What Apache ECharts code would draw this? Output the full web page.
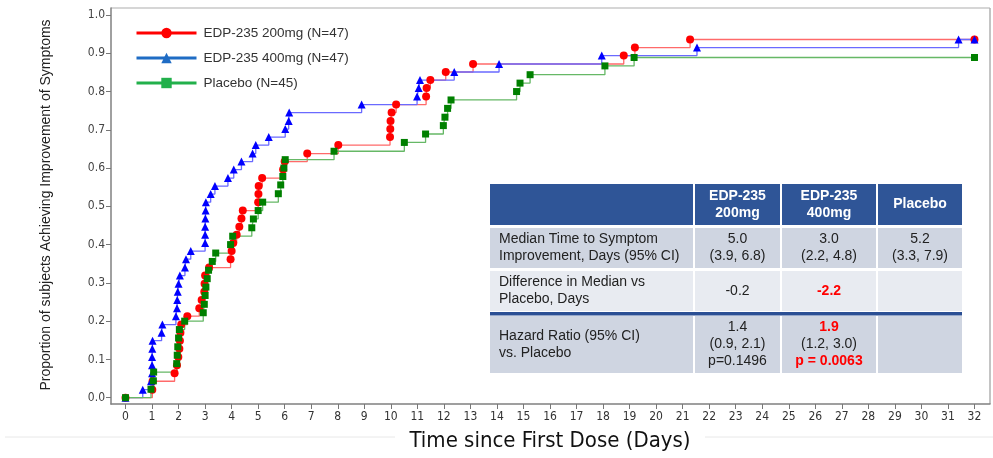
<!DOCTYPE html>
<html>
<head>
<meta charset="utf-8">
<script src="https://cdn.jsdelivr.net/npm/echarts@6/dist/echarts.min.js"></script>
<style>
  html, body { margin: 0; padding: 0; background: #fff; }
  #chart { width: 993px; height: 458px; }
</style>
</head>
<body>
<div id="chart"></div>
<script>
// event times (days) and cumulative proportions
var red_t = [1.01, 1.02, 1.85, 1.94, 1.99, 2.03, 2.05, 2.07, 2.1, 2.33, 2.78, 2.87, 2.97, 2.98, 3.0, 3.15,
    3.96, 4.0, 4.06, 4.19, 4.29, 4.37, 4.42, 5.0, 5.01, 5.02, 5.15, 5.94, 6.0, 6.85, 8.02, 9.97,
    9.98, 9.99, 10.03, 10.2, 11.33, 11.35, 11.49, 12.07, 13.1, 18.78, 19.2, 21.28, 32];
var red_p = [0.021, 0.043, 0.064, 0.085, 0.106, 0.128, 0.149, 0.170, 0.191, 0.213, 0.234, 0.255, 0.277, 0.298, 0.319, 0.340,
    0.362, 0.383, 0.404, 0.426, 0.447, 0.468, 0.489, 0.511, 0.532, 0.553, 0.574, 0.596, 0.617, 0.638, 0.660, 0.681,
    0.702, 0.723, 0.745, 0.766, 0.787, 0.809, 0.830, 0.851, 0.872, 0.894, 0.915, 0.936, 0.936];

var blue_t = [0.65, 0.96, 1.0, 1.0, 1.0, 1.01, 1.02, 1.36, 1.39, 1.9, 1.94, 1.95, 1.97, 2.0, 2.05, 2.24,
    2.28, 2.46, 3.0, 3.0, 3.0, 3.01, 3.02, 3.03, 3.21, 3.37, 3.86, 4.08, 4.37, 4.79, 4.91, 5.4,
    6.02, 6.15, 6.17, 8.9, 10.99, 11.05, 11.1, 12.39, 14.08, 17.95, 21.54, 31.4, 32];
var blue_p = [0.021, 0.043, 0.064, 0.085, 0.106, 0.128, 0.149, 0.170, 0.191, 0.213, 0.234, 0.255, 0.277, 0.298, 0.319, 0.340,
    0.362, 0.383, 0.404, 0.426, 0.447, 0.468, 0.489, 0.511, 0.532, 0.553, 0.574, 0.596, 0.617, 0.638, 0.660, 0.681,
    0.702, 0.723, 0.745, 0.766, 0.787, 0.809, 0.830, 0.851, 0.872, 0.894, 0.915, 0.936, 0.936];

var green_t = [0.96, 1.05, 1.06, 1.93, 1.95, 1.97, 2.0, 2.03, 2.23, 2.93, 2.97, 3.0, 3.03, 3.08, 3.13, 3.27,
    3.4, 3.96, 4.04, 4.76, 4.82, 5.0, 5.17, 5.76, 5.85, 5.93, 5.97, 6.02, 7.86, 10.51, 11.31, 11.98,
    12.04, 12.14, 12.27, 14.74, 14.87, 15.25, 18.07, 19.17, 32];
var green_p = [0.022, 0.044, 0.067, 0.089, 0.111, 0.133, 0.156, 0.178, 0.200, 0.222, 0.244, 0.267, 0.289, 0.311, 0.333, 0.356,
    0.378, 0.400, 0.422, 0.444, 0.467, 0.489, 0.511, 0.533, 0.556, 0.578, 0.600, 0.622, 0.644, 0.667, 0.689, 0.711,
    0.733, 0.756, 0.778, 0.800, 0.822, 0.844, 0.867, 0.889, 0.889];

var names = ['EDP-235 200mg (N=47)', 'EDP-235 400mg (N=47)', 'Placebo (N=45)'];

// tick positions
var xTicks = [0, 1, 2, 3, 4, 5, 6, 7, 8, 9, 10, 11, 12, 13, 14, 15, 16, 17, 18, 19, 20,
    21, 22, 23, 24, 25, 26, 27, 28, 29, 30, 31, 32];
var yTicks = [0, 0.1, 0.2, 0.3, 0.4, 0.5, 0.6, 0.7, 0.8, 0.9, 1.0];

// summary table
var tableHead = ['', 'EDP-235\n200mg', 'EDP-235\n400mg', 'Placebo'];
var tableRows = [
    ['Median Time to Symptom\nImprovement, Days (95% CI)', '5.0\n(3.9, 6.8)', '3.0\n(2.2, 4.8)', '5.2\n(3.3, 7.9)'],
    ['Difference in Median vs\nPlacebo, Days', '-0.2', '{r|-2.2}', ''],
    ['Hazard Ratio (95% CI)\nvs. Placebo', '1.4\n(0.9, 2.1)\np=0.1496', '{r|1.9}\n(1.2, 3.0)\n{r|p = 0.0063}', '']
];

function pts(t, p) {
    var out = [[0, 0]];
    for (var i = 0; i < t.length; i++) out.push([t[i], p[i]]);
    return out;
}

var narrow = "'Liberation Sans Narrow', 'DejaVu Sans Condensed', sans-serif";
var sans = "'Liberation Sans', Arial, sans-serif";

// table graphics
var colX = [490, 695, 782, 878, 964];
var rowY = [[184, 225], [228, 268], [271, 311], [316, 373]];
var rowBg = ['#2f5597', '#cfd5e1', '#e8ebf1', '#cfd5e1'];
var tbl = [];
var allRows = [tableHead].concat(tableRows);
allRows.forEach(function (row, r) {
    row.forEach(function (txt, c) {
        var x0 = colX[c], x1 = colX[c + 1] - 2;
        var y0 = rowY[r][0], y1 = rowY[r][1];
        tbl.push({ type: 'rect', shape: { x: x0, y: y0, width: x1 - x0, height: y1 - y0 },
            style: { fill: rowBg[r] }, silent: true });
        if (!txt) return;
        var isHead = r === 0;
        tbl.push({ type: 'text', silent: true,
            x: c === 0 ? x0 + 9 : (x0 + x1) / 2, y: (y0 + y1) / 2,
            style: {
                text: txt,
                align: c === 0 ? 'left' : 'center', verticalAlign: 'middle',
                fill: isHead ? '#fff' : '#222',
                font: (isHead ? 'bold ' : '') + '14px ' + sans,
                lineHeight: 17,
                rich: { r: { fill: '#ff0000', font: 'bold 14px ' + sans, lineHeight: 17 } }
            } });
    });
});
tbl.push({ type: 'rect', shape: { x: 490, y: 312, width: 472, height: 3.5 }, style: { fill: '#2b4f94' }, silent: true });

var myChart = echarts.init(document.getElementById('chart'));

var option = {
    animation: false,
    backgroundColor: '#fff',
    // grid = plot frame
    grid: { left: 111, right: 3, top: 8, bottom: 54 },
    legend: {
        orient: 'vertical',
        left: 130, top: 21,
        itemWidth: 60, itemHeight: 13, itemGap: 11,
        textStyle: { fontFamily: sans, fontSize: 13.5, color: '#333', padding: [0, 0, 0, 2] },
        data: [
            { name: names[0], itemStyle: { color: '#ff0000' }, lineStyle: { color: '#ff0000', width: 3 } },
            { name: names[1], itemStyle: { color: '#1f6cc4' }, lineStyle: { color: '#1f6cc4', width: 3 } },
            { name: names[2], itemStyle: { color: '#22b04b' }, lineStyle: { color: '#22b04b', width: 3 } }
        ]
    },
    xAxis: {
        type: 'value', min: -0.547, max: 32.585,
        axisLine: { show: true, onZero: false, lineStyle: { color: '#808080', width: 1.5 } },
        axisTick: { show: true, length: 5, customValues: xTicks, lineStyle: { color: '#777' } },
        axisLabel: { customValues: xTicks, fontFamily: narrow, fontSize: 12, color: '#333', margin: 7 },
        splitLine: { show: false }
    },
    yAxis: {
        type: 'value', min: -0.0165, max: 1.0183,
        axisLine: { show: true, onZero: false, lineStyle: { color: '#808080', width: 1.5 } },
        axisTick: { show: true, length: 5, customValues: yTicks, lineStyle: { color: '#777' } },
        axisLabel: { customValues: yTicks, fontFamily: narrow, fontSize: 12, color: '#444', margin: 6,
            formatter: function (v) { return v.toFixed(1); } },
        splitLine: { show: false }
    },
    graphic: [
        { type: 'line', shape: { x1: 111, y1: 8, x2: 990, y2: 8 }, style: { stroke: '#c8c8c8', lineWidth: 1.5 }, silent: true },
        { type: 'line', shape: { x1: 990, y1: 8, x2: 990, y2: 404 }, style: { stroke: '#b0b0b0', lineWidth: 1.5 }, silent: true },
        { type: 'line', shape: { x1: 5, y1: 437, x2: 993, y2: 437 }, style: { stroke: '#e8e8e8', lineWidth: 1 }, silent: true },
        { type: 'rect', shape: { x: 395, y: 425, width: 310, height: 33 }, style: { fill: '#fff' }, silent: true },
        { type: 'text', x: 550, y: 441, silent: true,
            style: { text: 'Time since First Dose (Days)', align: 'center', verticalAlign: 'middle',
                font: '22px ' + narrow, fill: '#111' } },
        { type: 'text', x: 46, y: 205, rotation: Math.PI / 2, silent: true,
            style: { text: 'Proportion of subjects Achieving Improvement of Symptoms', align: 'center', verticalAlign: 'middle',
                font: '14px ' + sans, fill: '#222' } }
    ].concat(tbl),
    series: [
        {
            name: names[0], type: 'line', step: 'end', clip: false,
            data: pts(red_t, red_p),
            symbol: 'circle', symbolSize: 8, showAllSymbol: true,
            itemStyle: { color: '#ff0000' },
            lineStyle: { color: '#ff6a6a', width: 1.3 }
        },
        {
            name: names[1], type: 'line', step: 'end', clip: false,
            data: pts(blue_t, blue_p),
            symbol: 'triangle', symbolSize: 8, showAllSymbol: true,
            itemStyle: { color: '#0000ff' },
            lineStyle: { color: '#6a6aff', width: 1.3 }
        },
        {
            name: names[2], type: 'line', step: 'end', clip: false,
            data: pts(green_t, green_p),
            symbol: 'rect', symbolSize: 7, showAllSymbol: true,
            itemStyle: { color: '#008000' },
            lineStyle: { color: '#66b866', width: 1.3 }
        }
    ]
};

myChart.setOption(option);
</script>
</body>
</html>
